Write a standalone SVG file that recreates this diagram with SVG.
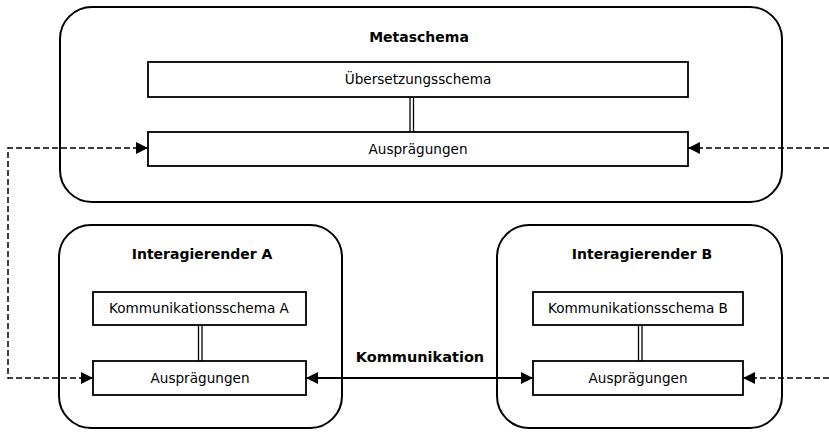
<svg xmlns="http://www.w3.org/2000/svg" width="829" height="432" viewBox="0 0 829 432">
<defs>
<marker id="ah" viewBox="0 0 12 12" refX="12" refY="6" markerWidth="12" markerHeight="12" markerUnits="userSpaceOnUse" orient="auto-start-reverse">
<path d="M0,0 L12,6 L0,12 Z" fill="#000"/>
</marker>
</defs>
<style>
.outer{fill:#fff;stroke:#000;stroke-width:2}
.box{fill:#fff;stroke:#000;stroke-width:1.8}
.t{font-family:"DejaVu Sans",Verdana,sans-serif;font-size:13.6px;text-anchor:middle;fill:#000}
.b{font-weight:bold;font-size:14px}
.dash{fill:none;stroke:#000;stroke-width:1.5;stroke-dasharray:6,3}
.solid{fill:none;stroke:#000;stroke-width:2}
.dbl{stroke:#000;stroke-width:1.3}
</style>
<g id="metaschema">
<rect class="outer" x="60" y="7" width="722" height="195" rx="32"/>
<text class="t b" x="419" y="42">Metaschema</text>
</g>
<g id="uebersetzungsschema">
<rect class="box" x="148" y="62" width="540" height="35"/>
<text class="t" x="418" y="84">Übersetzungsschema</text>
</g>
<g id="auspraegungen-meta">
<rect class="box" x="148" y="132" width="540" height="34"/>
<text class="t" x="418" y="154">Ausprägungen</text>
</g>
<g id="interagierender-a">
<rect class="outer" x="59" y="225" width="283" height="203" rx="32"/>
<text class="t b" x="202" y="259">Interagierender A</text>
</g>
<g id="kommschema-a">
<rect class="box" x="93" y="292" width="213" height="33"/>
<text class="t" x="199" y="313">Kommunikationsschema A</text>
</g>
<g id="auspraegungen-a">
<rect class="box" x="93" y="361" width="213" height="34"/>
<text class="t" x="200" y="383">Ausprägungen</text>
</g>
<g id="interagierender-b">
<rect class="outer" x="497" y="225" width="285" height="203" rx="32"/>
<text class="t b" x="642" y="259">Interagierender B</text>
</g>
<g id="kommschema-b">
<rect class="box" x="533" y="292" width="210" height="33"/>
<text class="t" x="638" y="313">Kommunikationsschema B</text>
</g>
<g id="auspraegungen-b">
<rect class="box" x="533" y="361" width="210" height="34"/>
<text class="t" x="638" y="383">Ausprägungen</text>
</g>
<g id="connectors">
<line class="dbl" x1="410" y1="97" x2="410" y2="132"/>
<line class="dbl" x1="413.5" y1="97" x2="413.5" y2="132"/>
<line class="dbl" x1="198.5" y1="325" x2="198.5" y2="361"/>
<line class="dbl" x1="202" y1="325" x2="202" y2="361"/>
<line class="dbl" x1="638.5" y1="325" x2="638.5" y2="361"/>
<line class="dbl" x1="642" y1="325" x2="642" y2="361"/>
<path class="dash" d="M148,148 H8 V378 H93" marker-start="url(#ah)" marker-end="url(#ah)"/>
<path class="dash" d="M829,148 H688" marker-end="url(#ah)"/>
<path class="dash" d="M829,378 H743" marker-end="url(#ah)"/>
<path class="solid" d="M306,378 H533" marker-start="url(#ah)" marker-end="url(#ah)"/>
<text class="t b" x="420" y="362" style="font-size:14.5px">Kommunikation</text>
</g>
</svg>
